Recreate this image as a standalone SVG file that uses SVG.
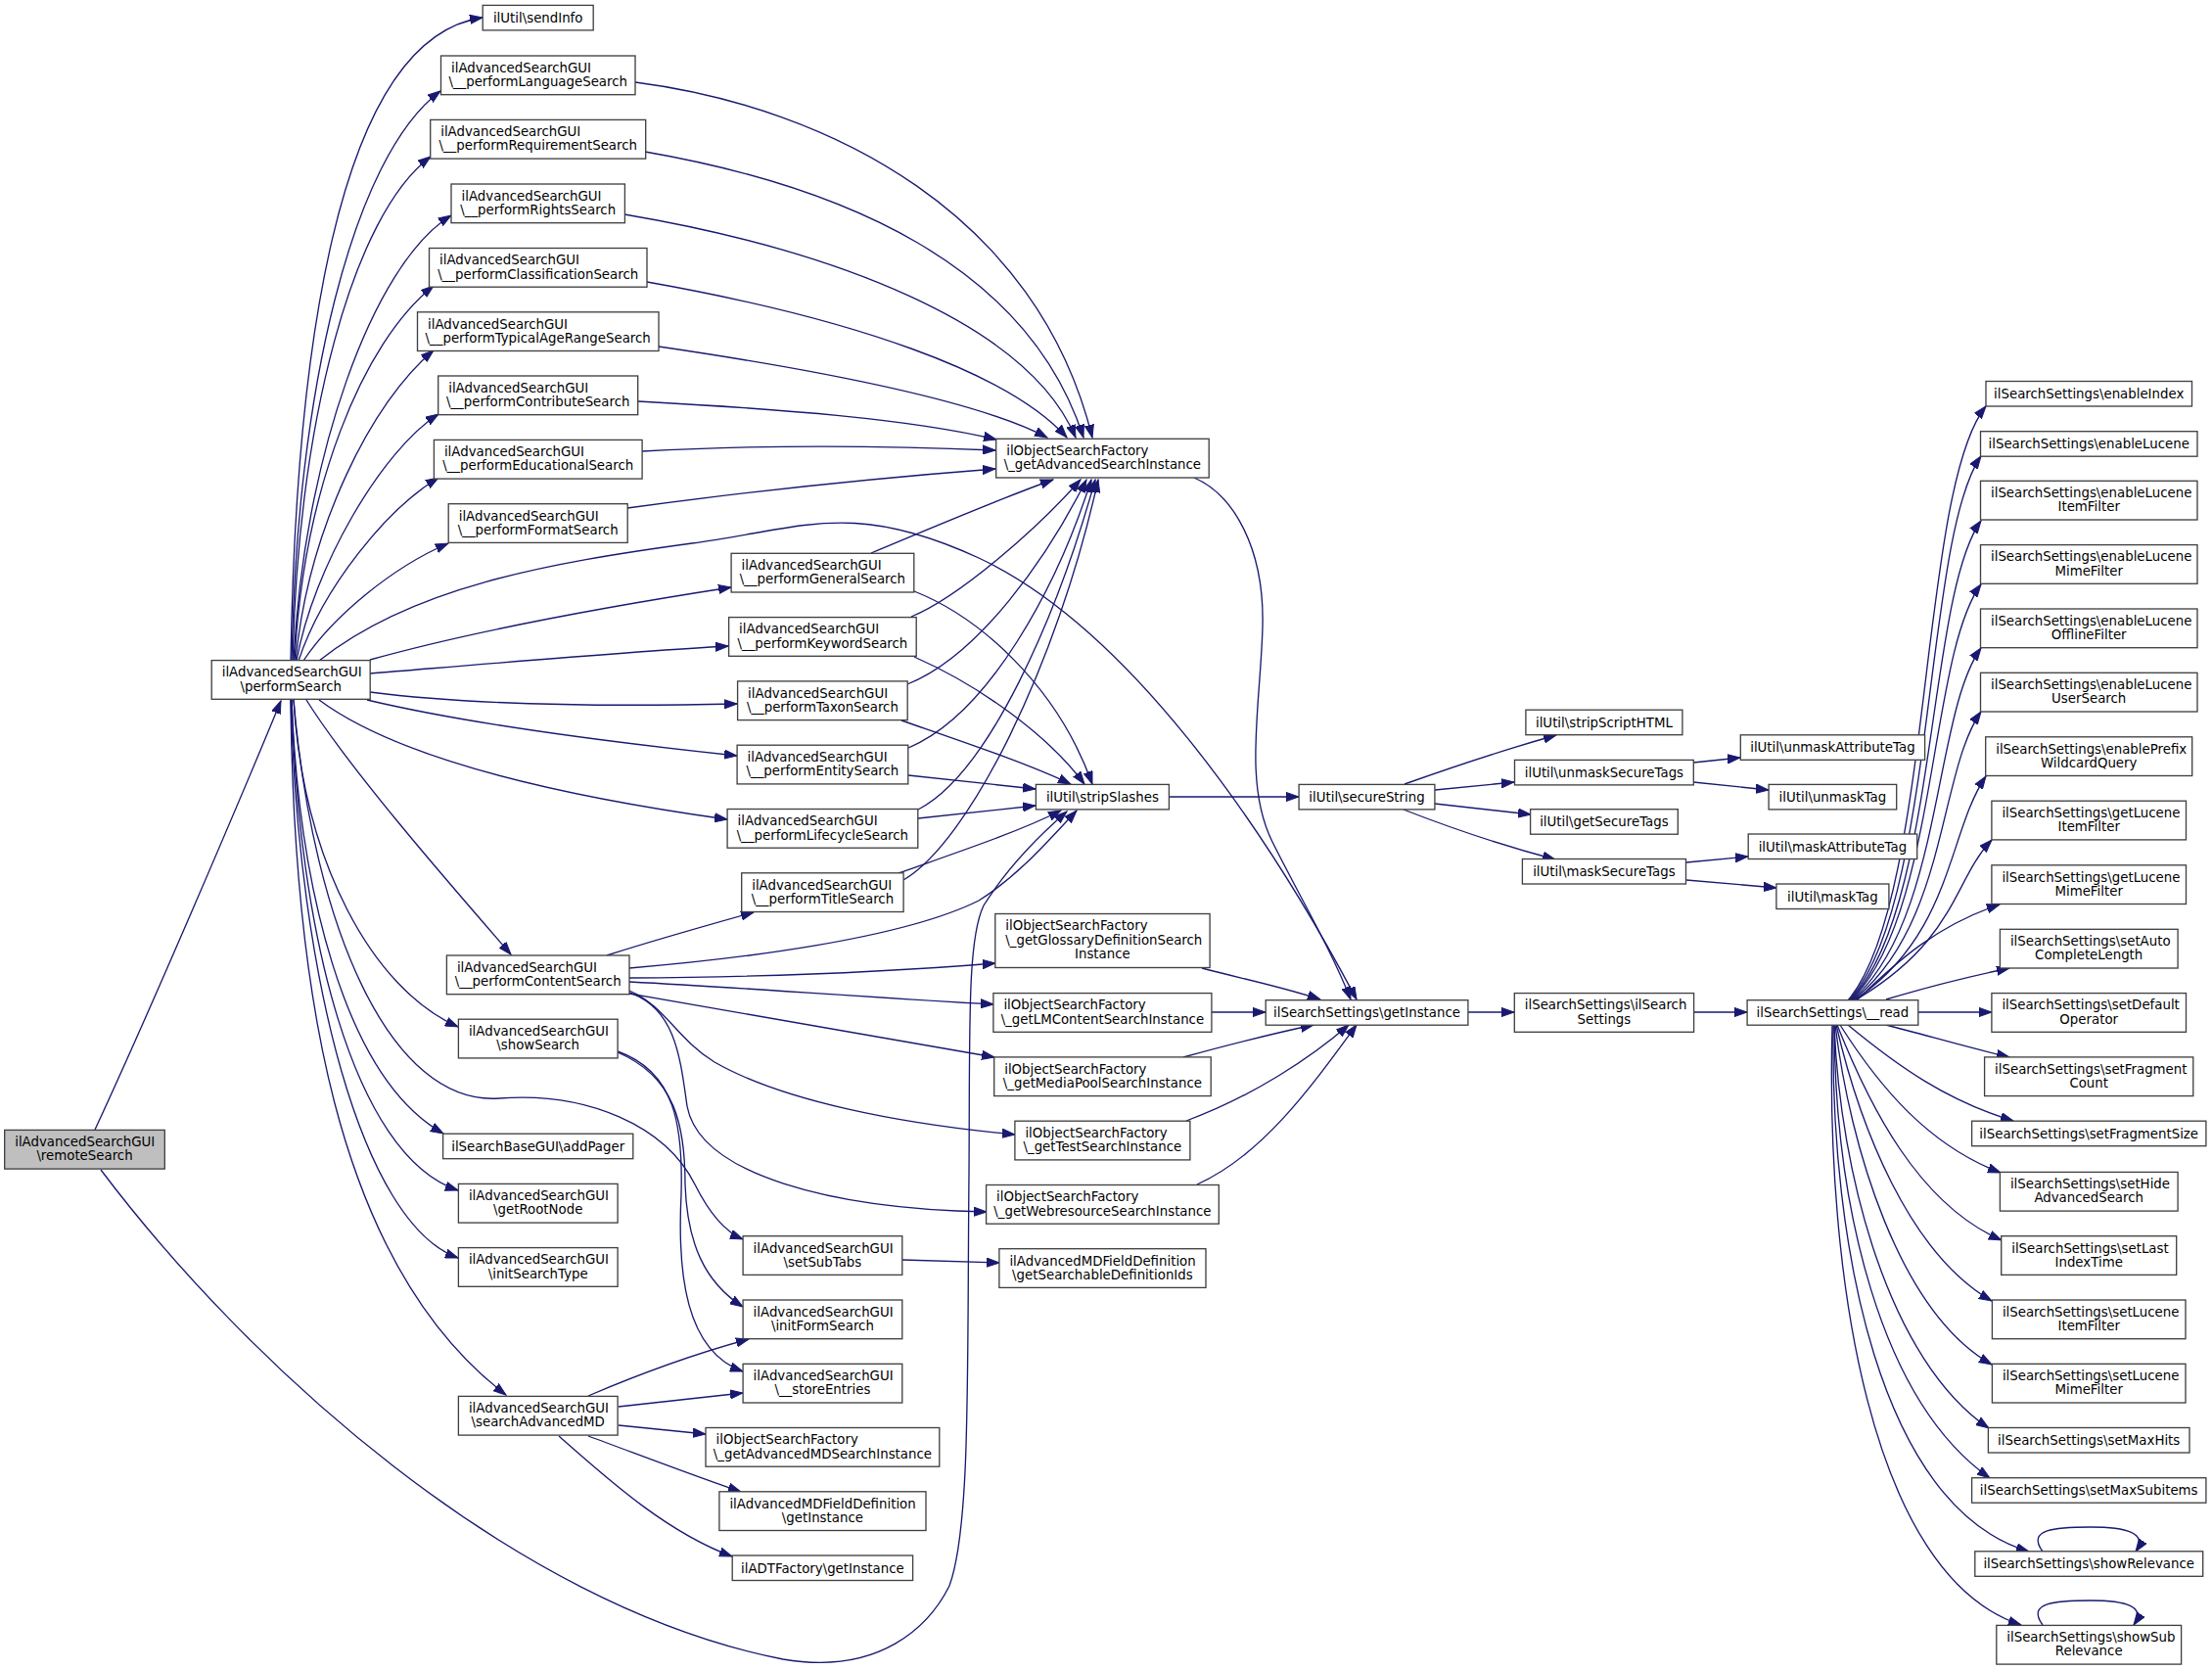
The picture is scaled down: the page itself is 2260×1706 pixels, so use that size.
<svg xmlns="http://www.w3.org/2000/svg" width="2260" height="1706" viewBox="0 0 2260 1706">
<defs>
<marker id="a" markerUnits="userSpaceOnUse" markerWidth="14" markerHeight="10" refX="13" refY="5" orient="auto" viewBox="0 0 14 10"><path d="M0,0.4 L13,5 L0,9.6 z" fill="#191970" stroke="#191970" stroke-width="1"/></marker>
<style>
.n rect{fill:#fff;stroke:#404040;stroke-width:1.33}
.root rect{fill:#bfbfbf}
text{font-family:"DejaVu Sans","Liberation Sans",sans-serif;font-size:13.33px;fill:#000}
.c{text-anchor:middle}
#edges path{fill:none;stroke:#191970;stroke-width:1.33;marker-end:url(#a)}
</style>
</defs>
<rect width="2260" height="1706" fill="#fff"/>
<g id="edges">
<path d="M97,1154 C150,1040 240,830 287,716"/>
<path d="M103,1195 C250,1390 520,1640 800,1695 C900,1712 950,1660 970,1620 C992,1560 988,1400 990,1200 C991,1050 988,960 1005,925 C1030,885 1060,855 1090,829"/>
<path d="M297,675 C302,380 340,40 493,18"/>
<path d="M298,675 C303,400 360,160 450,93"/>
<path d="M299,675 C305,430 360,220 440,160"/>
<path d="M300,675 C310,470 380,270 461,220"/>
<path d="M301,675 C310,500 370,350 443,292"/>
<path d="M302,675 C315,540 380,410 443,358"/>
<path d="M303,675 C320,580 390,460 448,423"/>
<path d="M305,675 C330,600 395,520 448,488"/>
<path d="M310,675 C340,630 400,580 458,555"/>
<path d="M378,674 C500,640 650,615 747,600"/>
<path d="M378,688 C500,678 650,665 744,660"/>
<path d="M378,707 C480,720 620,722 753,719"/>
<path d="M375,715 C480,740 640,760 753,772"/>
<path d="M326,715 C400,770 550,810 743,837"/>
<path d="M313,715 C360,790 470,915 522,975"/>
<path d="M300,715 C310,880 380,1010 468,1049"/>
<path d="M298,715 C305,900 350,1100 453,1158"/>
<path d="M298,715 C305,950 360,1180 468,1216"/>
<path d="M297,715 C305,1000 370,1250 468,1285"/>
<path d="M297,715 C300,1000 340,1290 517,1425"/>
<path d="M300,715 C320,950 400,1130 510,1122 C600,1115 680,1150 710,1210 C725,1240 740,1258 759,1266"/>
<path d="M326,675 C420,600 560,575 707,555 C820,540 870,510 1000,570 C1150,640 1290,840 1386,1021"/>
<path d="M649,84 C850,110 1060,220 1116,447"/>
<path d="M659,155 C860,190 1050,270 1107,447"/>
<path d="M638,219 C850,255 1050,330 1099,447"/>
<path d="M661,288 C870,325 1030,380 1090,447"/>
<path d="M673,354 C850,380 1000,410 1070,447"/>
<path d="M652,410 C800,418 930,428 1018,449"/>
<path d="M656,461 C780,454 900,455 1017,460"/>
<path d="M641,519 C780,500 900,488 1017,479"/>
<path d="M890,565 C950,540 1020,510 1076,490"/>
<path d="M931,630 C980,610 1060,540 1104,490"/>
<path d="M927,699 C1000,670 1070,570 1110,490"/>
<path d="M928,764 C1010,730 1080,600 1115,490"/>
<path d="M938,827 C1010,790 1080,630 1119,490"/>
<path d="M923,899 C990,860 1080,680 1122,490"/>
<path d="M934,604 C1000,630 1080,700 1116,801"/>
<path d="M934,671 C1000,700 1070,750 1108,801"/>
<path d="M921,736 C990,760 1050,780 1094,801"/>
<path d="M928,792 L1058,806"/>
<path d="M938,836 L1058,823"/>
<path d="M918,892 C980,870 1040,850 1084,828"/>
<path d="M643,989 C750,980 920,960 1000,920 C1040,895 1070,860 1100,828"/>
<path d="M620,976 C670,960 720,946 770,932"/>
<path d="M643,999 C800,998 920,992 1017,984"/>
<path d="M643,1003 C780,1010 900,1020 1015,1026"/>
<path d="M643,1015 C780,1040 900,1060 1016,1080"/>
<path d="M643,1012 C680,1028 690,1060 730,1085 C800,1125 920,1148 1037,1159"/>
<path d="M643,1014 C690,1030 695,1080 702,1130 C715,1200 850,1235 1008,1238"/>
<path d="M631,1075 C690,1100 700,1150 700,1210 C702,1270 720,1310 759,1335"/>
<path d="M631,1074 C690,1095 698,1150 696,1220 C692,1300 700,1380 759,1401"/>
<path d="M601,1426 C650,1405 710,1383 765,1368"/>
<path d="M632,1437 L759,1423"/>
<path d="M632,1456 L721,1465"/>
<path d="M601,1467 C650,1485 710,1508 757,1524"/>
<path d="M571,1467 C620,1510 680,1565 748,1590"/>
<path d="M922,1287 L1021,1290"/>
<path d="M1220,488 C1260,505 1292,560 1290,640 C1288,720 1270,800 1300,860 C1330,920 1360,970 1380,1021"/>
<path d="M1228,989 C1270,1000 1310,1008 1349,1021"/>
<path d="M1238,1034 L1293,1034"/>
<path d="M1209,1080 C1260,1066 1300,1056 1342,1047"/>
<path d="M1212,1145 C1280,1120 1340,1080 1378,1047"/>
<path d="M1223,1210 C1290,1180 1340,1110 1386,1047"/>
<path d="M1500,1034 L1547,1034"/>
<path d="M1731,1034 L1785,1034"/>
<path d="M1194,814 L1327,814"/>
<path d="M1435,801 C1480,785 1540,765 1590,751"/>
<path d="M1466,807 L1547,799"/>
<path d="M1466,821 L1564,832"/>
<path d="M1434,827 C1480,845 1540,865 1589,878"/>
<path d="M1730,779 L1778,774"/>
<path d="M1730,799 L1807,807"/>
<path d="M1723,881 L1786,875"/>
<path d="M1723,899 L1815,907"/>
<path d="M1888,1022 C1975,920 1960,500 2029,415"/>
<path d="M1889,1022 C1978,925 1965,550 2024,466"/>
<path d="M1890,1022 C1980,930 1968,610 2024,532"/>
<path d="M1891,1022 C1980,935 1970,670 2024,597"/>
<path d="M1892,1022 C1985,940 1975,730 2024,662"/>
<path d="M1893,1022 C1990,945 1980,790 2024,727"/>
<path d="M1894,1022 C1995,955 1990,850 2029,793"/>
<path d="M1895,1022 C2000,960 1995,900 2035,858"/>
<path d="M1897,1022 C1940,980 1980,945 2043,924"/>
<path d="M1927,1021 C1970,1008 2010,998 2053,989"/>
<path d="M1960,1034 L2035,1034"/>
<path d="M1927,1047 C1970,1058 2010,1070 2053,1080"/>
<path d="M1888,1047 C1940,1090 1990,1125 2057,1145"/>
<path d="M1880,1047 C1920,1110 1970,1170 2044,1198"/>
<path d="M1877,1047 C1910,1130 1960,1230 2045,1267"/>
<path d="M1876,1047 C1900,1150 1950,1280 2035,1329"/>
<path d="M1875,1047 C1890,1170 1940,1340 2035,1394"/>
<path d="M1874,1047 C1880,1200 1930,1390 2032,1459"/>
<path d="M1874,1047 C1875,1230 1920,1430 2033,1510"/>
<path d="M1873,1047 C1870,1270 1920,1540 2073,1585"/>
<path d="M1872,1047 C1865,1300 1910,1610 2065,1660"/>
<path d="M2087,1585 C2070,1562 2100,1560 2136,1560 C2172,1560 2195,1566 2182,1585"/>
<path d="M2087,1660 C2070,1637 2100,1635 2136,1635 C2172,1635 2193,1641 2180,1660"/>
</g>
<g id="remoteSearch" class="n root"><rect x="4.7" y="1154.4" width="163.6" height="39.7"/><text x="15.2" y="1171.2">ilAdvancedSearchGUI</text><text class="c" x="86.5" y="1185.4">\remoteSearch</text></g>
<g id="performSearch" class="n"><rect x="216.2" y="674.6" width="162" height="39.7"/><text x="226.7" y="691.4">ilAdvancedSearchGUI</text><text class="c" x="297.2" y="705.6">\performSearch</text></g>
<g id="sendInfo" class="n"><rect x="493.2" y="5.4" width="113" height="25.5"/><text class="c" x="549.7" y="22.9">ilUtil\sendInfo</text></g>
<g id="performLanguageSearch" class="n"><rect x="450.5" y="57" width="198.5" height="39.7"/><text x="461" y="73.8">ilAdvancedSearchGUI</text><text class="c" x="549.7" y="88">\__performLanguageSearch</text></g>
<g id="performRequirementSearch" class="n"><rect x="439.7" y="122.4" width="220" height="39.7"/><text x="450.2" y="139.2">ilAdvancedSearchGUI</text><text class="c" x="549.7" y="153.4">\__performRequirementSearch</text></g>
<g id="performRightsSearch" class="n"><rect x="461" y="188" width="177.4" height="39.7"/><text x="471.5" y="204.8">ilAdvancedSearchGUI</text><text class="c" x="549.7" y="219">\__performRightsSearch</text></g>
<g id="performClassificationSearch" class="n"><rect x="438.5" y="253.5" width="222.5" height="39.7"/><text x="449" y="270.3">ilAdvancedSearchGUI</text><text class="c" x="549.7" y="284.5">\__performClassificationSearch</text></g>
<g id="performTypicalAgeRangeSearch" class="n"><rect x="426.5" y="318.8" width="246.5" height="39.7"/><text x="437" y="335.6">ilAdvancedSearchGUI</text><text class="c" x="549.7" y="349.8">\__performTypicalAgeRangeSearch</text></g>
<g id="performContributeSearch" class="n"><rect x="447.7" y="384" width="204" height="39.7"/><text x="458.2" y="400.8">ilAdvancedSearchGUI</text><text class="c" x="549.7" y="415">\__performContributeSearch</text></g>
<g id="performEducationalSearch" class="n"><rect x="443.4" y="449.4" width="212.7" height="39.7"/><text x="453.9" y="466.2">ilAdvancedSearchGUI</text><text class="c" x="549.7" y="480.4">\__performEducationalSearch</text></g>
<g id="performFormatSearch" class="n"><rect x="458.2" y="514.7" width="183" height="39.7"/><text x="468.7" y="531.5">ilAdvancedSearchGUI</text><text class="c" x="549.7" y="545.7">\__performFormatSearch</text></g>
<g id="performContentSearch" class="n"><rect x="456.4" y="976" width="186.6" height="39.7"/><text x="466.9" y="992.8">ilAdvancedSearchGUI</text><text class="c" x="549.7" y="1007">\__performContentSearch</text></g>
<g id="showSearch" class="n"><rect x="468.4" y="1041.2" width="162.7" height="39.7"/><text x="478.9" y="1058">ilAdvancedSearchGUI</text><text class="c" x="549.7" y="1072.2">\showSearch</text></g>
<g id="addPager" class="n"><rect x="452.6" y="1158.2" width="194.2" height="25.5"/><text class="c" x="549.7" y="1175.7">ilSearchBaseGUI\addPager</text></g>
<g id="getRootNode" class="n"><rect x="468.4" y="1209.4" width="162.7" height="39.7"/><text x="478.9" y="1226.2">ilAdvancedSearchGUI</text><text class="c" x="549.7" y="1240.4">\getRootNode</text></g>
<g id="initSearchType" class="n"><rect x="468.4" y="1274.6" width="162.7" height="39.7"/><text x="478.9" y="1291.4">ilAdvancedSearchGUI</text><text class="c" x="549.7" y="1305.6">\initSearchType</text></g>
<g id="searchAdvancedMD" class="n"><rect x="468.4" y="1426.4" width="162.7" height="39.7"/><text x="478.9" y="1443.2">ilAdvancedSearchGUI</text><text class="c" x="549.7" y="1457.4">\searchAdvancedMD</text></g>
<g id="performGeneralSearch" class="n"><rect x="747.1" y="565.3" width="186.7" height="39.7"/><text x="757.6" y="582.1">ilAdvancedSearchGUI</text><text class="c" x="840.4" y="596.3">\__performGeneralSearch</text></g>
<g id="performKeywordSearch" class="n"><rect x="744.6" y="630.6" width="191.6" height="39.7"/><text x="755.1" y="647.4">ilAdvancedSearchGUI</text><text class="c" x="840.4" y="661.6">\__performKeywordSearch</text></g>
<g id="performTaxonSearch" class="n"><rect x="753.6" y="695.9" width="173.6" height="39.7"/><text x="764.1" y="712.7">ilAdvancedSearchGUI</text><text class="c" x="840.4" y="726.9">\__performTaxonSearch</text></g>
<g id="performEntitySearch" class="n"><rect x="753.1" y="761.2" width="174.7" height="39.7"/><text x="763.6" y="778">ilAdvancedSearchGUI</text><text class="c" x="840.4" y="792.2">\__performEntitySearch</text></g>
<g id="performLifecycleSearch" class="n"><rect x="743.1" y="826.5" width="194.7" height="39.7"/><text x="753.6" y="843.3">ilAdvancedSearchGUI</text><text class="c" x="840.4" y="857.5">\__performLifecycleSearch</text></g>
<g id="performTitleSearch" class="n"><rect x="757.7" y="891.8" width="165.4" height="39.7"/><text x="768.2" y="908.6">ilAdvancedSearchGUI</text><text class="c" x="840.4" y="922.8">\__performTitleSearch</text></g>
<g id="setSubTabs" class="n"><rect x="759.1" y="1262.7" width="162.7" height="39.7"/><text x="769.6" y="1279.5">ilAdvancedSearchGUI</text><text class="c" x="840.4" y="1293.7">\setSubTabs</text></g>
<g id="initFormSearch" class="n"><rect x="759.1" y="1328" width="162.7" height="39.7"/><text x="769.6" y="1344.8">ilAdvancedSearchGUI</text><text class="c" x="840.4" y="1359">\initFormSearch</text></g>
<g id="storeEntries" class="n"><rect x="759.1" y="1393.3" width="162.7" height="39.7"/><text x="769.6" y="1410.1">ilAdvancedSearchGUI</text><text class="c" x="840.4" y="1424.3">\__storeEntries</text></g>
<g id="getAdvancedMDSearchInstance" class="n"><rect x="721" y="1458.5" width="238.8" height="39.7"/><text x="731.5" y="1475.3">ilObjectSearchFactory</text><text class="c" x="840.4" y="1489.5">\_getAdvancedMDSearchInstance</text></g>
<g id="mdFieldGetInstance" class="n"><rect x="734.9" y="1523.8" width="211.1" height="39.7"/><text x="745.4" y="1540.6">ilAdvancedMDFieldDefinition</text><text class="c" x="840.4" y="1554.8">\getInstance</text></g>
<g id="adtGetInstance" class="n"><rect x="748.2" y="1589" width="184.4" height="25.5"/><text class="c" x="840.4" y="1606.5">ilADTFactory\getInstance</text></g>
<g id="getAdvancedSearchInstance" class="n"><rect x="1017.7" y="448.3" width="217.5" height="39.7"/><text x="1028.2" y="465.1">ilObjectSearchFactory</text><text class="c" x="1126.4" y="479.3">\_getAdvancedSearchInstance</text></g>
<g id="stripSlashes" class="n"><rect x="1058.4" y="801.4" width="136" height="25.5"/><text class="c" x="1126.4" y="818.9">ilUtil\stripSlashes</text></g>
<g id="getGlossaryDefinitionSearchInstance" class="n"><rect x="1016.8" y="933.5" width="219.3" height="55"/><text x="1027.3" y="950.3">ilObjectSearchFactory</text><text x="1027.3" y="964.5">\_getGlossaryDefinitionSearch</text><text class="c" x="1126.4" y="978.7">Instance</text></g>
<g id="getLMContentSearchInstance" class="n"><rect x="1014.9" y="1014.6" width="223" height="39.7"/><text x="1025.4" y="1031.4">ilObjectSearchFactory</text><text class="c" x="1126.4" y="1045.6">\_getLMContentSearchInstance</text></g>
<g id="getMediaPoolSearchInstance" class="n"><rect x="1015.7" y="1079.9" width="221.5" height="39.7"/><text x="1026.2" y="1096.7">ilObjectSearchFactory</text><text class="c" x="1126.4" y="1110.9">\_getMediaPoolSearchInstance</text></g>
<g id="getTestSearchInstance" class="n"><rect x="1036.9" y="1145.2" width="179" height="39.7"/><text x="1047.4" y="1162">ilObjectSearchFactory</text><text class="c" x="1126.4" y="1176.2">\_getTestSearchInstance</text></g>
<g id="getWebresourceSearchInstance" class="n"><rect x="1007.6" y="1210.5" width="237.7" height="39.7"/><text x="1018.1" y="1227.3">ilObjectSearchFactory</text><text class="c" x="1126.4" y="1241.5">\_getWebresourceSearchInstance</text></g>
<g id="getSearchableDefinitionIds" class="n"><rect x="1020.9" y="1275.7" width="211.1" height="39.7"/><text x="1031.4" y="1292.5">ilAdvancedMDFieldDefinition</text><text class="c" x="1126.4" y="1306.7">\getSearchableDefinitionIds</text></g>
<g id="secureString" class="n"><rect x="1327.1" y="801.4" width="138.8" height="25.5"/><text class="c" x="1396.5" y="818.9">ilUtil\secureString</text></g>
<g id="searchSettingsGetInstance" class="n"><rect x="1293.2" y="1021.7" width="206.7" height="25.5"/><text class="c" x="1396.5" y="1039.2">ilSearchSettings\getInstance</text></g>
<g id="stripScriptHTML" class="n"><rect x="1558.9" y="725.2" width="160" height="25.5"/><text class="c" x="1638.9" y="742.7">ilUtil\stripScriptHTML</text></g>
<g id="unmaskSecureTags" class="n"><rect x="1547.5" y="776.4" width="182.8" height="25.5"/><text class="c" x="1638.9" y="793.9">ilUtil\unmaskSecureTags</text></g>
<g id="getSecureTags" class="n"><rect x="1563.6" y="826.7" width="150.7" height="25.5"/><text class="c" x="1638.9" y="844.2">ilUtil\getSecureTags</text></g>
<g id="maskSecureTags" class="n"><rect x="1555.4" y="877.5" width="167.1" height="25.5"/><text class="c" x="1638.9" y="895">ilUtil\maskSecureTags</text></g>
<g id="ilSearchSettingsCtor" class="n"><rect x="1547.3" y="1014.6" width="183.3" height="39.7"/><text x="1557.8" y="1031.4">ilSearchSettings\ilSearch</text><text class="c" x="1638.9" y="1045.6">Settings</text></g>
<g id="unmaskAttributeTag" class="n"><rect x="1778.3" y="750.8" width="188.3" height="25.5"/><text class="c" x="1872.4" y="768.3">ilUtil\unmaskAttributeTag</text></g>
<g id="unmaskTag" class="n"><rect x="1807.1" y="801.4" width="130.6" height="25.5"/><text class="c" x="1872.4" y="818.9">ilUtil\unmaskTag</text></g>
<g id="maskAttributeTag" class="n"><rect x="1786.2" y="852" width="172.5" height="25.5"/><text class="c" x="1872.4" y="869.5">ilUtil\maskAttributeTag</text></g>
<g id="maskTag" class="n"><rect x="1814.9" y="903" width="115" height="25.5"/><text class="c" x="1872.4" y="920.5">ilUtil\maskTag</text></g>
<g id="read" class="n"><rect x="1785.1" y="1021.7" width="174.7" height="25.5"/><text class="c" x="1872.4" y="1039.2">ilSearchSettings\__read</text></g>
<g id="enableIndex" class="n"><rect x="2029" y="389.5" width="210.5" height="25.5"/><text class="c" x="2134.2" y="407">ilSearchSettings\enableIndex</text></g>
<g id="enableLucene" class="n"><rect x="2023.5" y="440.7" width="221.5" height="25.5"/><text class="c" x="2134.2" y="458.2">ilSearchSettings\enableLucene</text></g>
<g id="enableLuceneItemFilter" class="n"><rect x="2023.5" y="491.3" width="221.5" height="39.7"/><text x="2034" y="508.1">ilSearchSettings\enableLucene</text><text class="c" x="2134.2" y="522.3">ItemFilter</text></g>
<g id="enableLuceneMimeFilter" class="n"><rect x="2023.5" y="556.6" width="221.5" height="39.7"/><text x="2034" y="573.4">ilSearchSettings\enableLucene</text><text class="c" x="2134.2" y="587.6">MimeFilter</text></g>
<g id="enableLuceneOfflineFilter" class="n"><rect x="2023.5" y="622" width="221.5" height="39.7"/><text x="2034" y="638.8">ilSearchSettings\enableLucene</text><text class="c" x="2134.2" y="653">OfflineFilter</text></g>
<g id="enableLuceneUserSearch" class="n"><rect x="2023.5" y="687.3" width="221.5" height="39.7"/><text x="2034" y="704.1">ilSearchSettings\enableLucene</text><text class="c" x="2134.2" y="718.3">UserSearch</text></g>
<g id="enablePrefixWildcardQuery" class="n"><rect x="2028.7" y="752.8" width="211" height="39.7"/><text x="2039.2" y="769.6">ilSearchSettings\enablePrefix</text><text class="c" x="2134.2" y="783.8">WildcardQuery</text></g>
<g id="getLuceneItemFilter" class="n"><rect x="2034.9" y="818.2" width="198.6" height="39.7"/><text x="2045.4" y="835">ilSearchSettings\getLucene</text><text class="c" x="2134.2" y="849.2">ItemFilter</text></g>
<g id="getLuceneMimeFilter" class="n"><rect x="2034.9" y="883.8" width="198.6" height="39.7"/><text x="2045.4" y="900.6">ilSearchSettings\getLucene</text><text class="c" x="2134.2" y="914.8">MimeFilter</text></g>
<g id="setAutoCompleteLength" class="n"><rect x="2043.4" y="949.3" width="181.7" height="39.7"/><text x="2053.9" y="966.1">ilSearchSettings\setAuto</text><text class="c" x="2134.2" y="980.3">CompleteLength</text></g>
<g id="setDefaultOperator" class="n"><rect x="2034.9" y="1014.6" width="198.6" height="39.7"/><text x="2045.4" y="1031.4">ilSearchSettings\setDefault</text><text class="c" x="2134.2" y="1045.6">Operator</text></g>
<g id="setFragmentCount" class="n"><rect x="2027.6" y="1079.9" width="213.2" height="39.7"/><text x="2038.1" y="1096.7">ilSearchSettings\setFragment</text><text class="c" x="2134.2" y="1110.9">Count</text></g>
<g id="setFragmentSize" class="n"><rect x="2014.6" y="1145.2" width="239.3" height="25.5"/><text class="c" x="2134.2" y="1162.7">ilSearchSettings\setFragmentSize</text></g>
<g id="setHideAdvancedSearch" class="n"><rect x="2043.4" y="1197.4" width="181.7" height="39.7"/><text x="2053.9" y="1214.2">ilSearchSettings\setHide</text><text class="c" x="2134.2" y="1228.4">AdvancedSearch</text></g>
<g id="setLastIndexTime" class="n"><rect x="2044.7" y="1262.7" width="179" height="39.7"/><text x="2055.2" y="1279.5">ilSearchSettings\setLast</text><text class="c" x="2134.2" y="1293.7">IndexTime</text></g>
<g id="setLuceneItemFilter" class="n"><rect x="2035.4" y="1328" width="197.6" height="39.7"/><text x="2045.9" y="1344.8">ilSearchSettings\setLucene</text><text class="c" x="2134.2" y="1359">ItemFilter</text></g>
<g id="setLuceneMimeFilter" class="n"><rect x="2035.4" y="1393.3" width="197.6" height="39.7"/><text x="2045.9" y="1410.1">ilSearchSettings\setLucene</text><text class="c" x="2134.2" y="1424.3">MimeFilter</text></g>
<g id="setMaxHits" class="n"><rect x="2031.4" y="1458.5" width="205.6" height="25.5"/><text class="c" x="2134.2" y="1476">ilSearchSettings\setMaxHits</text></g>
<g id="setMaxSubitems" class="n"><rect x="2014.6" y="1509.7" width="239.3" height="25.5"/><text class="c" x="2134.2" y="1527.2">ilSearchSettings\setMaxSubitems</text></g>
<g id="showRelevance" class="n"><rect x="2017.8" y="1584.8" width="232.9" height="25.5"/><text class="c" x="2134.2" y="1602.3">ilSearchSettings\showRelevance</text></g>
<g id="showSubRelevance" class="n"><rect x="2039.8" y="1660.4" width="188.8" height="39.7"/><text x="2050.3" y="1677.2">ilSearchSettings\showSub</text><text class="c" x="2134.2" y="1691.4">Relevance</text></g>
</svg>
